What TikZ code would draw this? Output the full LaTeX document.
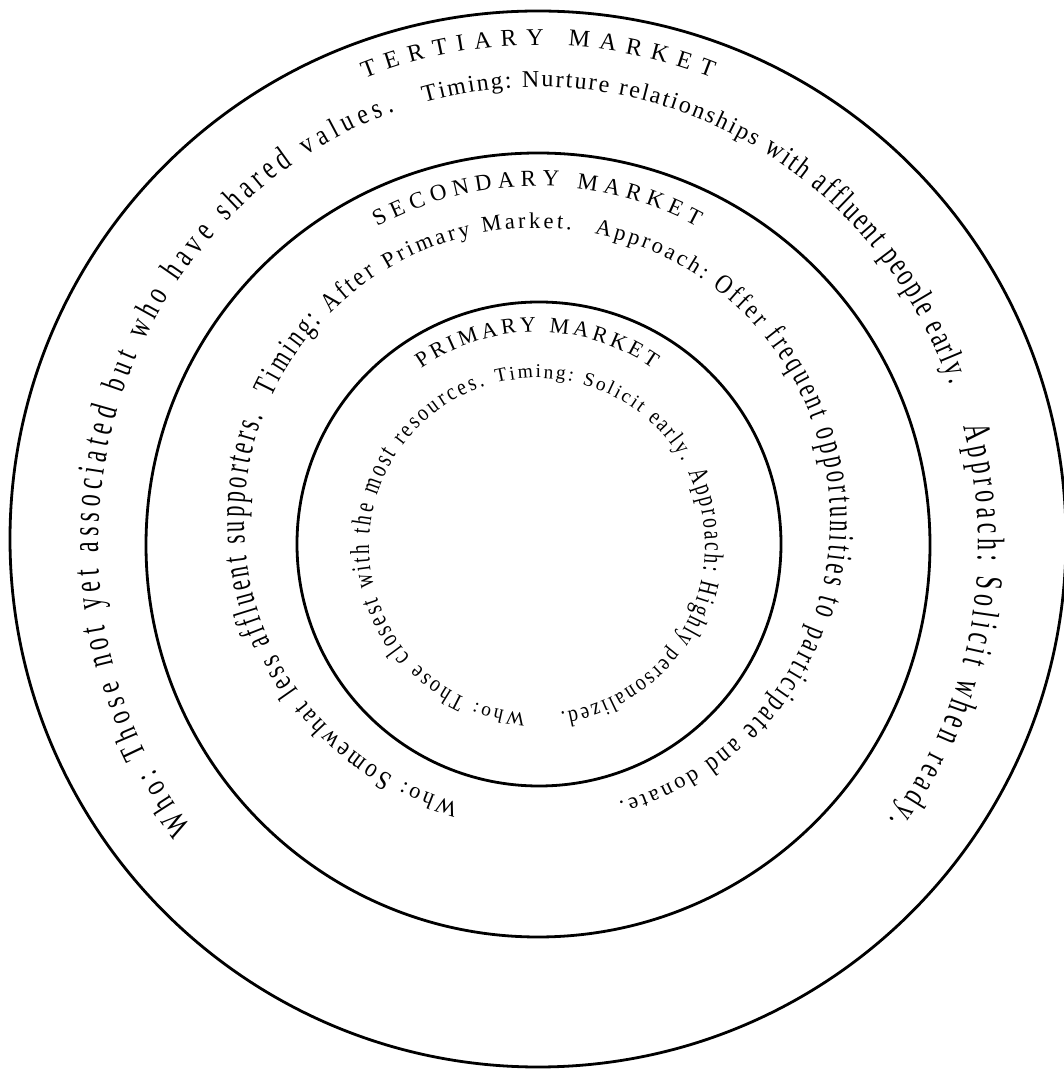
\documentclass[tikz,border=0pt]{standalone}
\usepackage{fontspec}
\setmainfont{Liberation Serif}
\newfontfamily\fsb[FakeStretch=0.833]{Liberation Serif}
\newfontfamily\fsc[FakeStretch=0.714]{Liberation Serif}
\newfontfamily\fsd[FakeStretch=0.625]{Liberation Serif}
\newcommand\rf[2]{#1\fontsize{#2}{#2}\selectfont}
\usetikzlibrary{decorations.text}
\begin{document}
\begin{tikzpicture}[
        x=1bp,
        y=1bp,
        ring/.style={draw,line width=2.8bp},
        arctext/.style={decorate,decoration={text along path,text align=fit to path,text={#1}}}
    ]
    \useasboundingbox[fill=white] (0,0) rectangle (1064,1071);

    \coordinate (o1) at (538,532);
    \coordinate (o2) at (538,526);
    \coordinate (o3) at (539,527);
    \coordinate (t1) at (538,526);
    \coordinate (t2) at (537,550);
    \coordinate (t3) at (537,525);

    \path[ring] (o1) circle[radius=528];
    \path[ring] (o2) circle[radius=392];
    \path[ring] (o3) circle[radius=242];

    \path[arctext={|\rf\rmfamily{24bp}|TERTIARY MARKET}]
        (t1) ++(111:484 and 500) arc[start angle=111,end angle=69,x radius=484,y radius=500];
    \begin{scope}[x radius=440,y radius=458]
        \path[arctext={|\rf\fsc{33.6bp}|Who: Those |\rf\fsd{38.4bp}|not yet associated |\rf\fsc{33.6bp}|but who have shared |\rf\fsb{28.8bp}|values.}]
            (t1) ++(218:440 and 458) arc[start angle=218,end angle=109];
        \path[arctext={|\rf\rmfamily{24bp}|Timing: Nurture relationships |\rf\fsb{28.8bp}|with |\rf\fsc{33.6bp}|affluent people early.}]
            (t1) ++(105:440 and 458) arc[start angle=105,end angle=20.5];
        \path[arctext={|\rf\fsd{38.4bp}|Approach: Solicit when |\rf\fsc{33.6bp}|ready.}]
            (t1) ++(15:440 and 458) arc[start angle=15,end angle=-37];
    \end{scope}

    \path[arctext={|\rf\rmfamily{23bp}|SECONDARY MARKET}]
        (t2) ++(118.5:335) arc[start angle=118.5,end angle=61.5,radius=335];
    \begin{scope}[radius=293]
        \path[arctext={|\rf\rmfamily{22.5bp}|Who: |\rf\fsb{27bp}|Somewhat |\rf\fsc{31.5bp}|less |\rf\fsd{36bp}|affluent supporters.}]
            (t2) ++(254.5:293) arc[start angle=254.5,end angle=159];
        \path[arctext={|\rf\fsc{31.5bp}|Timing: |\rf\fsb{27bp}|After |\rf\rmfamily{22.5bp}|Primary Market.}]
            (t2) ++(155:293) arc[start angle=155,end angle=83.3];
        \path[arctext={|\rf\rmfamily{22.5bp}|Approach: |\rf\fsb{27bp}|Offer |\rf\fsc{31.5bp}|frequent |\rf\fsd{36bp}|opportunities to |\rf\fsc{31.5bp}|participate |\rf\fsb{27bp}|and |\rf\rmfamily{22.5bp}|donate.}]
            (t2) ++(78.7:293) arc[start angle=78.7,end angle=-73.8];
    \end{scope}

    \path[arctext={|\rf\rmfamily{22bp}|PRIMARY MARKET}]
        (t3) ++(124:207 and 214) arc[start angle=124,end angle=56,x radius=207,y radius=214];
    \begin{scope}[radius=168]
        \path[arctext={|\rf\rmfamily{19.5bp}|Who: |\rf\fsb{23.4bp}|Those |\rf\fsc{27.3bp}|closest with the most |\rf\fsb{23.4bp}|resources.}]
            (t3) ++(266:168) arc[start angle=266,end angle=108];
        \path[arctext={|\rf\rmfamily{19.5bp}|Timing: Solicit |\rf\fsb{23.4bp}|early.}]
            (t3) ++(104:168) arc[start angle=104,end angle=30];
        \path[arctext={|\rf\fsc{27.3bp}|Approach: Highly |\rf\fsb{23.4bp}|personalized.}]
            (t3) ++(26:168) arc[start angle=26,end angle=-82];
    \end{scope}
\end{tikzpicture}
\end{document}
